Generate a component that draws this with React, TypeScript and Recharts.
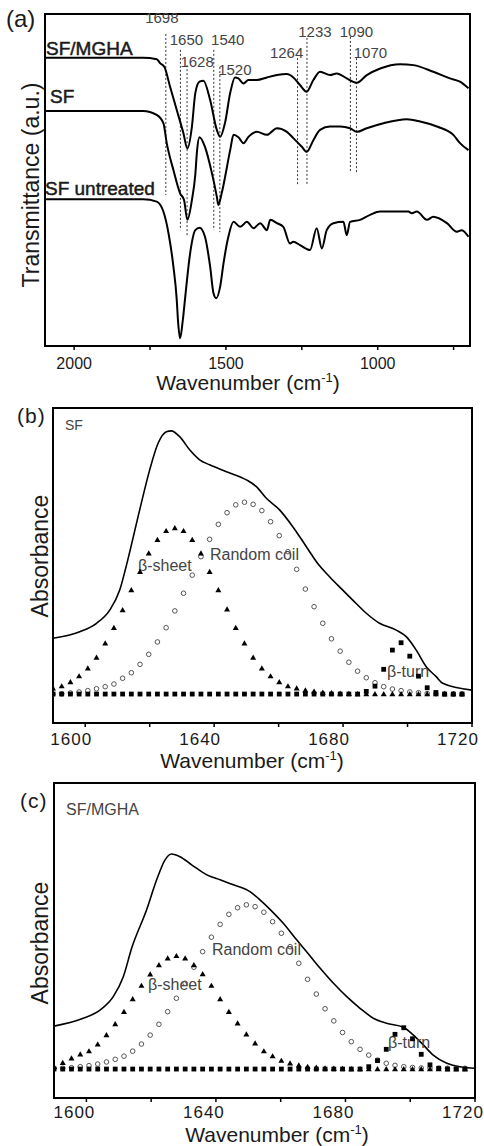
import React from 'react';
import {
  ComposedChart,
  Line,
  Scatter,
  XAxis,
  YAxis,
  ReferenceArea,
  ReferenceLine,
} from 'recharts';

const FONT = '"Liberation Sans", Arial, Helvetica, sans-serif';

// ---------- (a) FTIR spectra, transmittance in arbitrary units ----------
const sfMghaWavenumber = [
  2096, 1773, 1728, 1717, 1703, 1684, 1662, 1640, 1627, 1612, 1601, 1587, 1574, 1552, 1530,
  1519, 1503, 1486, 1470, 1459, 1442, 1426, 1398, 1365, 1332, 1299, 1278, 1256, 1234, 1212,
  1190, 1157, 1135, 1102, 1069, 1036, 992, 926, 882, 817, 762, 729, 701,
];
const sfMghaTransmittance = [
  8.68, 8.68, 8.64, 8.52, 8.41, 7.81, 7.11, 6.41, 5.95, 6.61, 7.61, 7.96, 7.99, 7.41, 6.51,
  6.3, 6.72, 7.62, 8.09, 8.06, 7.91, 8.01, 8.01, 8.09, 8.16, 8.19, 8.09, 7.86, 7.66, 8.01,
  8.26, 8.16, 8.21, 8.06, 7.93, 8.16, 8.36, 8.49, 8.46, 8.26, 8.06, 7.96, 7.76,
];

const sfWavenumber = [
  2096, 1773, 1728, 1706, 1695, 1673, 1651, 1638, 1627, 1612, 1601, 1595, 1587, 1569, 1546,
  1530, 1525, 1514, 1486, 1475, 1459, 1442, 1426, 1398, 1365, 1332, 1299, 1278, 1250, 1234,
  1212, 1190, 1157, 1124, 1091, 1069, 1036, 981, 904, 860, 805, 751, 729, 701,
];
const sfTransmittance = [
  7.08, 7.08, 6.96, 6.71, 6.11, 5.3, 4.6, 4.4, 3.8, 4.4, 5.15, 5.9, 6.29, 6.0, 5.2,
  4.5, 4.25, 4.6, 5.9, 6.36, 6.29, 6.11, 6.3, 6.45, 6.36, 6.56, 6.45, 6.26, 6.0, 5.85,
  6.2, 6.51, 6.61, 6.61, 6.56, 6.45, 6.56, 6.71, 6.83, 6.76, 6.61, 6.36, 6.11, 5.9,
];

const untreatedWavenumber = [
  2096, 1773, 1728, 1706, 1689, 1673, 1662, 1658, 1651, 1642, 1634, 1618, 1601, 1587, 1569,
  1552, 1541, 1532, 1519, 1508, 1492, 1475, 1453, 1431, 1409, 1387, 1365, 1354, 1332, 1311,
  1289, 1278, 1256, 1223, 1201, 1184, 1168, 1146, 1113, 1102, 1091, 1058, 1025, 992, 948,
  899, 888, 871, 838, 817, 772, 739, 723, 701,
];
const untreatedTransmittance = [
  4.42, 4.42, 4.35, 4.05, 3.39, 2.39, 1.39, 0.78, 0.23, 0.78, 1.48, 2.79, 3.49, 3.56, 3.29,
  2.39, 1.59, 1.44, 1.79, 2.49, 3.29, 3.74, 3.59, 3.74, 3.55, 3.7, 3.49, 3.8, 3.7, 3.59,
  3.09, 3.14, 3.04, 2.89, 3.55, 2.94, 3.49, 3.7, 3.74, 3.34, 3.74, 3.8, 3.95, 4.05, 4.05,
  4.05, 4.0, 4.05, 3.8, 3.89, 3.7, 3.44, 3.49, 3.29,
];

// marked bands (dotted guides)
const peakWavenumbers = [1698, 1650, 1628, 1540, 1520, 1264, 1233, 1090, 1070];
const peakGuideTop = [9.4, 8.92, 8.46, 8.92, 8.4, 8.67, 9.28, 9.31, 8.67];
const peakGuideBottom = [4.55, 3.49, 3.34, 3.49, 3.43, 4.85, 4.85, 5.21, 5.21];
// label offset in px from the top of each guide
const peakLabelShift = [
  [-4, -11], [6, -5], [10, 2], [14, -5], [15, 8], [-11, 0], [8, -1], [6, 0], [14, 0],
];

const spectraTicks = [2000, 1750, 1500, 1250, 1000, 750];
const spectraTickLabels = [2000, 1500, 1000];

// ---------- (b), (c) amide I band fitting ----------
const fitWavenumber = [
  1590.0, 1592.7, 1595.4, 1598.1, 1600.8, 1603.5, 1606.2, 1608.9, 1611.6, 1614.3, 1617.0, 1619.7,
  1622.4, 1625.1, 1627.8, 1630.5, 1633.2, 1635.9, 1638.6, 1641.3, 1644.0, 1646.7, 1649.4, 1652.1,
  1654.8, 1657.5, 1660.2, 1662.9, 1665.6, 1668.3, 1671.0, 1673.7, 1676.4, 1679.1, 1681.8, 1684.5,
  1687.2, 1689.9, 1692.6, 1695.3, 1698.0, 1700.7, 1703.4, 1706.1, 1708.8, 1711.5, 1714.2, 1716.9,
];

const sfSheet = [
  0.022, 0.03, 0.046, 0.068, 0.098, 0.139, 0.193, 0.252, 0.319, 0.395, 0.465, 0.535,
  0.586, 0.62, 0.631, 0.62, 0.586, 0.535, 0.465, 0.395, 0.322, 0.252, 0.193, 0.139,
  0.098, 0.068, 0.046, 0.03, 0.022, 0.014, 0.01, 0.006, 0.004, 0.002, 0.001, 0,
  0, 0, 0, 0, 0, 0, 0, 0, 0, 0, 0, 0,
];
const sfCoil = [
  0, 0.001, 0.004, 0.008, 0.013, 0.02, 0.028, 0.038, 0.06, 0.081, 0.113, 0.151,
  0.198, 0.252, 0.316, 0.383, 0.452, 0.522, 0.588, 0.645, 0.689, 0.719, 0.729, 0.721,
  0.697, 0.655, 0.602, 0.541, 0.474, 0.399, 0.332, 0.269, 0.21, 0.163, 0.121, 0.087,
  0.062, 0.043, 0.028, 0.019, 0.013, 0.008, 0.005, 0.002, 0.001, 0, 0, 0,
];
const sfTurn = [
  0, 0, 0, 0, 0, 0, 0, 0, 0, 0, 0, 0,
  0, 0, 0, 0, 0, 0, 0, 0, 0, 0, 0, 0,
  0, 0, 0, 0, 0, 0, 0, 0, 0, 0, 0, 0,
  0.01, 0.03, 0.094, 0.167, 0.195, 0.144, 0.068, 0.024, 0.006, 0, 0, 0,
];
const sfTotalWavenumber = [
  1590.0, 1598.3, 1603.5, 1607.6, 1610.7, 1612.8, 1616.9, 1620.0, 1622.6, 1625.2, 1626.7,
  1629.3, 1632.4, 1635.5, 1638.6, 1643.8, 1650.0, 1653.1, 1656.2, 1660.3, 1664.4, 1668.6, 1672.2,
  1675.8, 1679.9, 1683.0, 1687.2, 1691.3, 1696.5, 1699.6, 1702.7, 1705.8, 1708.9, 1710.9, 1720.0,
];
const sfTotal = [
  0.212, 0.237, 0.269, 0.319, 0.395, 0.49, 0.7, 0.852, 0.953, 0.997, 1.0,
  0.978, 0.928, 0.89, 0.871, 0.845, 0.814, 0.788, 0.744, 0.7, 0.636, 0.56, 0.495,
  0.446, 0.395, 0.357, 0.307, 0.269, 0.243, 0.218, 0.167, 0.104, 0.066, 0.041, 0.015,
];

const mghaSheet = [
  0.009, 0.024, 0.041, 0.056, 0.068, 0.094, 0.129, 0.171, 0.218, 0.266, 0.317, 0.36,
  0.395, 0.421, 0.43, 0.421, 0.395, 0.361, 0.317, 0.266, 0.218, 0.174, 0.132, 0.098,
  0.068, 0.049, 0.032, 0.022, 0.014, 0.009, 0.006, 0.003, 0.002, 0.001, 0, 0,
  0, 0, 0, 0, 0, 0, 0, 0, 0, 0, 0, 0,
];
const mghaCoil = [
  0.003, 0.003, 0.005, 0.009, 0.013, 0.019, 0.027, 0.037, 0.049, 0.068, 0.095, 0.129,
  0.17, 0.218, 0.269, 0.326, 0.387, 0.446, 0.501, 0.55, 0.588, 0.613, 0.624, 0.617,
  0.596, 0.56, 0.516, 0.465, 0.402, 0.341, 0.285, 0.229, 0.183, 0.139, 0.104, 0.075,
  0.053, 0.034, 0.022, 0.014, 0.009, 0.006, 0.004, 0.003, 0.003, 0.003, 0.003, 0.003,
];
const mghaTurn = [
  0, 0, 0, 0, 0, 0, 0, 0, 0, 0, 0, 0,
  0, 0, 0, 0, 0, 0, 0, 0, 0, 0, 0, 0,
  0, 0, 0, 0, 0, 0, 0, 0, 0, 0, 0, 0,
  0.009, 0.032, 0.075, 0.132, 0.157, 0.115, 0.056, 0.016, 0.003, 0, 0, 0,
];
const mghaTotalWavenumber = [
  1590.0, 1599.0, 1604.2, 1608.3, 1611.4, 1614.0, 1618.6, 1621.7, 1624.3, 1626.3, 1628.9,
  1632.5, 1637.2, 1641.3, 1645.4, 1650.5, 1653.6, 1656.7, 1660.8, 1665.0, 1668.0, 1672.2, 1676.3,
  1680.4, 1684.5, 1688.6, 1692.7, 1697.9, 1701.0, 1704.1, 1707.1, 1711.3, 1715.4, 1720.0,
];
const mghaTotal = [
  0.163, 0.193, 0.224, 0.275, 0.351, 0.46, 0.605, 0.719, 0.795, 0.817, 0.807,
  0.776, 0.738, 0.719, 0.7, 0.674, 0.643, 0.607, 0.554, 0.49, 0.446, 0.383, 0.326,
  0.275, 0.231, 0.193, 0.174, 0.159, 0.129, 0.091, 0.053, 0.022, 0.009, 0.003,
];

const amideTicks = [1600, 1620, 1640, 1660, 1680, 1700, 1720];
const amideTickLabels = [1600, 1640, 1680, 1720];

const pts = (xs: number[], ys: number[]) => xs.map((x, i) => ({ x, y: ys[i] }));

type Note = {
  text: string;
  x: number;
  y: number;
  size: number;
  fill?: string;
  rotate?: boolean;
  spacing?: number;
  heavy?: boolean;
};

// axis title plus the free text of a panel, in chart pixel coordinates
const renderPanelText = (cx: number, baseline: number, notes: Note[]) => () => (
  <g>
    <text x={cx} y={baseline} textAnchor="middle" fontFamily={FONT} fontSize={21} fill="#1a1a1a">
      Wavenumber (cm
      <tspan dy={-8} fontSize={13}>-1</tspan>
      <tspan dy={8}>)</tspan>
    </text>
    {notes.map((n, i) => (
      <text
        key={i}
        x={n.x}
        y={n.y}
        textAnchor={n.rotate ? 'middle' : 'start'}
        dominantBaseline={n.rotate ? 'central' : undefined}
        transform={n.rotate ? `rotate(-90 ${n.x} ${n.y})` : undefined}
        fontFamily={FONT}
        fontSize={n.size}
        letterSpacing={n.spacing}
        fill={n.fill || '#1a1a1a'}
        stroke={n.heavy ? '#1a1a1a' : undefined}
        strokeWidth={n.heavy ? 0.5 : undefined}
      >
        {n.text}
      </text>
    ))}
  </g>
);

const makeTick = (labels: number[], dx: number, dy: number, size: number, spacing: number) =>
  (p: any) => {
    const v = p.payload.value;
    if (!labels.includes(v)) return <g />;
    return (
      <text
        x={p.x + dx}
        y={p.y + dy}
        textAnchor="middle"
        fontFamily={FONT}
        fontSize={size}
        letterSpacing={spacing}
        fill="#1a1a1a"
      >
        {v}
      </text>
    );
  };

const Triangle = (p: any) => (
  <polygon
    points={`${p.cx},${p.cy - 3} ${p.cx + 3},${p.cy + 2.2} ${p.cx - 3},${p.cy + 2.2}`}
    fill="#000"
  />
);
const Square = (p: any) => (
  <rect x={p.cx - 2.4} y={p.cy - 2.4} width={4.8} height={4.8} fill="#000" />
);
const Ring = (p: any) => (
  <circle cx={p.cx} cy={p.cy} r={2.3} fill="none" stroke="#555" strokeWidth={1} />
);

function SpectraPanel() {
  const xDomain = [696, 2096];
  const yDomain = [0, 10];
  const notes: Note[] = [
    { text: '(a)', x: 6, y: 27, size: 24 },
    { text: 'Transmittance (a.u.)', x: 31, y: 185, size: 23, rotate: true },
    { text: 'SF/MGHA', x: 46, y: 55, size: 19, heavy: true },
    { text: 'SF', x: 50, y: 103, size: 19, heavy: true },
    { text: 'SF untreated', x: 45, y: 195, size: 19, heavy: true },
  ];
  return (
    <ComposedChart width={484} height={395} margin={{ top: 14, right: 14, bottom: 0, left: 45 }}>
      <XAxis
        type="number"
        dataKey="x"
        domain={xDomain}
        reversed
        ticks={spectraTicks}
        interval={0}
        height={49}
        axisLine={false}
        tickSize={4}
        tickMargin={0}
        tickLine={{ stroke: '#000', strokeWidth: 1.5 }}
        tick={makeTick(spectraTickLabels, 0, 19, 16, 0)}
        label={renderPanelText(248, 390, notes)}
        allowDataOverflow
      />
      <YAxis type="number" dataKey="y" domain={yDomain} hide allowDataOverflow />
      <ReferenceArea
        x1={xDomain[0]}
        x2={xDomain[1]}
        y1={yDomain[0]}
        y2={yDomain[1]}
        fill="none"
        stroke="#000"
        strokeWidth={2}
        ifOverflow="visible"
      />
      {peakWavenumbers.map((wn, i) => (
        <ReferenceLine
          key={wn}
          segment={[
            { x: wn, y: peakGuideTop[i] },
            { x: wn, y: peakGuideBottom[i] },
          ]}
          stroke="#333"
          strokeWidth={1}
          strokeDasharray="2 2"
          label={(p: any) => {
            const vb = p.viewBox || p;
            return (
              <text
                x={vb.x + peakLabelShift[i][0]}
                y={vb.y + peakLabelShift[i][1]}
                textAnchor="middle"
                fontFamily={FONT}
                fontSize={15}
                fill="#444"
              >
                {wn}
              </text>
            );
          }}
        />
      ))}
      <Line data={pts(sfMghaWavenumber, sfMghaTransmittance)} dataKey="y" type="monotone" stroke="#000" strokeWidth={2} dot={false} activeDot={false} isAnimationActive={false} />
      <Line data={pts(sfWavenumber, sfTransmittance)} dataKey="y" type="monotone" stroke="#000" strokeWidth={2} dot={false} activeDot={false} isAnimationActive={false} />
      <Line data={pts(untreatedWavenumber, untreatedTransmittance)} dataKey="y" type="monotone" stroke="#000" strokeWidth={2} dot={false} activeDot={false} isAnimationActive={false} />
    </ComposedChart>
  );
}

interface AmidePanelProps {
  height: number;
  margin: { top: number; right: number; bottom: number; left: number };
  axisHeight: number;
  sheet: number[];
  coil: number[];
  turn: number[];
  totalWavenumber: number[];
  total: number[];
  notes: Note[];
  titleX: number;
  titleY: number;
  tickDx: number;
  tickDy: number;
}

function AmidePanel(props: AmidePanelProps) {
  const xDomain = [1590, 1720];
  const yDomain = [-0.11, 1.087];
  return (
    <ComposedChart width={484} height={props.height} margin={props.margin}>
      <XAxis
        type="number"
        dataKey="x"
        domain={xDomain}
        ticks={amideTicks}
        interval={0}
        height={props.axisHeight}
        axisLine={false}
        tickSize={4}
        tickMargin={0}
        tickLine={{ stroke: '#000', strokeWidth: 1.5 }}
        tick={makeTick(amideTickLabels, props.tickDx, props.tickDy, 17, 1)}
        label={renderPanelText(props.titleX, props.titleY, props.notes)}
        allowDataOverflow
      />
      <YAxis type="number" dataKey="y" domain={yDomain} hide allowDataOverflow />
      <ReferenceArea
        x1={xDomain[0]}
        x2={xDomain[1]}
        y1={yDomain[0]}
        y2={yDomain[1]}
        fill="none"
        stroke="#000"
        strokeWidth={2}
        ifOverflow="visible"
      />
      <Line data={pts(props.totalWavenumber, props.total)} dataKey="y" type="monotone" stroke="#000" strokeWidth={1.6} dot={false} activeDot={false} isAnimationActive={false} />
      <Scatter data={pts(fitWavenumber, props.coil)} dataKey="y" shape={Ring} isAnimationActive={false} />
      <Scatter data={pts(fitWavenumber, props.sheet)} dataKey="y" shape={Triangle} isAnimationActive={false} />
      <Scatter data={pts(fitWavenumber, props.turn)} dataKey="y" shape={Square} isAnimationActive={false} />
    </ComposedChart>
  );
}

export default function App() {
  const sfNotes: Note[] = [
    { text: '(b)', x: 17, y: 28, size: 21, spacing: 1 },
    { text: 'Absorbance', x: 40, y: 161, size: 23, rotate: true },
    { text: 'SF', x: 65, y: 35, size: 14, fill: '#444' },
    { text: 'Random coil', x: 210, y: 165, size: 16, fill: '#444' },
    { text: 'β-sheet', x: 138, y: 176, size: 16, fill: '#444' },
    { text: 'β-turn', x: 387, y: 282, size: 16, fill: '#444' },
  ];
  const mghaNotes: Note[] = [
    { text: '(c)', x: 20, y: 33, size: 21, spacing: 1 },
    { text: 'Absorbance', x: 40, y: 168, size: 23, rotate: true },
    { text: 'SF/MGHA', x: 66, y: 40, size: 16, fill: '#444' },
    { text: 'Random coil', x: 212, y: 180, size: 16, fill: '#444' },
    { text: 'β-sheet', x: 148, y: 215, size: 16, fill: '#444' },
    { text: 'β-turn', x: 388, y: 273, size: 16, fill: '#444' },
  ];
  return (
    <div style={{ position: 'absolute', left: 0, top: 0, width: 484, height: 1146, background: '#fff' }}>
      <div style={{ position: 'absolute', left: 0, top: 0 }}>
        <SpectraPanel />
      </div>
      <div style={{ position: 'absolute', left: 0, top: 395 }}>
        <AmidePanel
          height={380}
          margin={{ top: 13, right: 12, bottom: 0, left: 53 }}
          axisHeight={52}
          sheet={sfSheet}
          coil={sfCoil}
          turn={sfTurn}
          totalWavenumber={sfTotalWavenumber}
          total={sfTotal}
          notes={sfNotes}
          titleX={252}
          titleY={373}
          tickDx={-14}
          tickDy={18}
        />
      </div>
      <div style={{ position: 'absolute', left: 0, top: 775 }}>
        <AmidePanel
          height={371}
          margin={{ top: 8, right: 9, bottom: 0, left: 54 }}
          axisHeight={48}
          sheet={mghaSheet}
          coil={mghaCoil}
          turn={mghaTurn}
          totalWavenumber={mghaTotalWavenumber}
          total={mghaTotal}
          notes={mghaNotes}
          titleX={277}
          titleY={367}
          tickDx={-12}
          tickDy={16}
        />
      </div>
    </div>
  );
}
